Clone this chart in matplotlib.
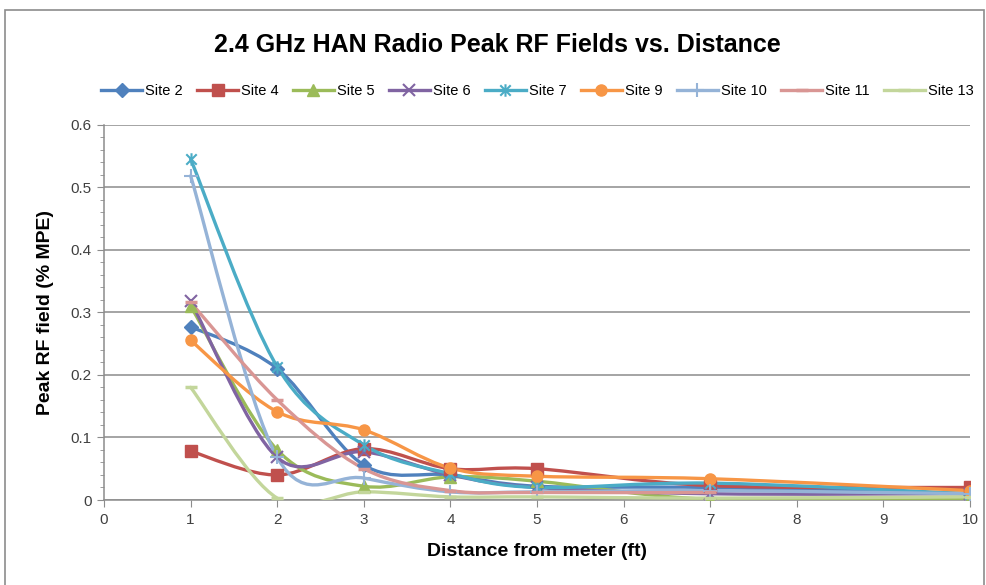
import numpy as np
import matplotlib
matplotlib.use('Agg')
import matplotlib.pyplot as plt
from matplotlib.path import Path
from matplotlib.patches import PathPatch, Rectangle
from matplotlib.lines import Line2D

plt.rcParams['font.family'] = ['Liberation Sans Narrow', 'Liberation Sans', 'DejaVu Sans']

# distances (ft)
dist = [1, 2, 3, 4, 5, 7, 10]

# peak RF field (% MPE) per site
site2 = [0.277, 0.210, 0.056, 0.040, 0.022, 0.020, 0.010]
site4 = [0.078, 0.040, 0.082, 0.050, 0.050, 0.023, 0.020]
site5 = [0.310, 0.080, 0.022, 0.037, 0.030, 0.001, 0.001]
site6 = [0.318, 0.068, 0.077, 0.040, 0.020, 0.010, 0.010]
site7 = [0.545, 0.213, 0.088, 0.042, 0.020, 0.027, 0.010]
site9 = [0.255, 0.141, 0.112, 0.051, 0.038, 0.034, 0.015]
site10 = [0.518, 0.068, 0.035, 0.013, 0.013, 0.015, 0.010]
site11 = [0.316, 0.160, 0.050, 0.015, 0.012, 0.012]
site13 = [0.180, 0.003, 0.013, 0.005, 0.005, 0.003, 0.005]

names = ['Site 2', 'Site 4', 'Site 5', 'Site 6', 'Site 7', 'Site 9', 'Site 10', 'Site 11', 'Site 13']
series = [site2, site4, site5, site6, site7, site9, site10, site11, site13]
colors = ['#4F81BD', '#C0504D', '#9BBB59', '#8064A2', '#4BACC6', '#F79646', '#95B3D7', '#D99694', '#C3D69B']

# excel style "star" marker: x with a vertical bar
star = Path([(-1, -1), (1, 1), (-1, 1), (1, -1), (0, -1.2), (0, 1.2)],
            [Path.MOVETO, Path.LINETO, Path.MOVETO, Path.LINETO, Path.MOVETO, Path.LINETO])
markers = ['D', 's', '^', 'x', star, 'o', '+', '_', '_']
msizes = [7, 8, 8, 8, 9, 8, 10, 8, 8]


def smooth_path(xs, ys):
    # Excel-like smoothed line: cubic bezier with control points from neighbours
    pts = np.column_stack([xs, ys]).astype(float)
    n = len(pts)
    verts = [pts[0]]
    codes = [Path.MOVETO]
    for i in range(n - 1):
        p0 = pts[i - 1] if i > 0 else pts[i]
        p1 = pts[i]
        p2 = pts[i + 1]
        p3 = pts[i + 2] if i + 2 < n else pts[i + 1]
        c1 = p1 + (p2 - p0) / 6.0
        c2 = p2 - (p3 - p1) / 6.0
        verts += [c1, c2, p2]
        codes += [Path.CURVE4] * 3
    return Path(verts, codes)


fig = plt.figure(figsize=(9.86, 5.85), dpi=100)
ax = fig.add_axes([104 / 986, 1 - 500 / 585, 866 / 986, 375.5 / 585])

# chart border
fig.patches.append(Rectangle((5 / 986, -0.1), 979 / 986, 1 - 10 / 585 + 0.1, transform=fig.transFigure,
                             fill=False, edgecolor='#8c8c8c', lw=1.2))

handles = []
for name, ys, c, m, ms in zip(names, series, colors, markers, msizes):
    xs = dist[:len(ys)]
    ax.add_patch(PathPatch(smooth_path(xs, ys), facecolor='none', edgecolor=c, lw=2.4,
                           capstyle='round', joinstyle='round', zorder=3))
    mew = 1.5 if m in ('x', '+') or m is star else (2.5 if m == '_' else 1)
    ax.plot(xs, ys, linestyle='none', marker=m, markersize=ms, color=c, mec=c, mew=mew, zorder=4)
    handles.append(Line2D([], [], color=c, lw=2.4, marker=m, markersize=ms, mec=c, mew=mew))

ax.set_xlim(0, 10)
ax.set_ylim(0, 0.6)
ax.set_xticks(range(0, 11))
ax.set_yticks(np.arange(0, 0.61, 0.1))
ax.set_yticklabels(['0', '0.1', '0.2', '0.3', '0.4', '0.5', '0.6'])
ax.set_yticks(np.arange(0, 0.601, 0.02), minor=True)
ax.yaxis.grid(True, color='#8c8c8c', lw=1.1)
ax.set_axisbelow(True)
for s in ['top', 'right']:
    ax.spines[s].set_visible(False)
for s in ['left', 'bottom']:
    ax.spines[s].set_color('#8c8c8c')
    ax.spines[s].set_linewidth(1.1)
ax.tick_params(axis='both', which='major', direction='out', length=5, color='#8c8c8c',
               labelsize=11, labelcolor='#404040', pad=4)
ax.tick_params(axis='y', which='minor', direction='out', length=3, color='#8c8c8c')

ax.set_xlabel('Distance from meter (ft)', fontsize=14, fontweight='bold', labelpad=12)
ax.set_ylabel('Peak RF field (% MPE)', fontsize=14, fontweight='bold', labelpad=12)

fig.text(0.504, 1 - 45 / 585, '2.4 GHz HAN Radio Peak RF Fields vs. Distance', ha='center', va='center',
         fontsize=18, fontweight='bold')

fig.legend(handles, names, loc='center', bbox_to_anchor=(0.545, 1 - 91 / 585), ncol=9, frameon=False,
           fontsize=10.5, handlelength=2.8, columnspacing=1.0, handletextpad=0.2)

fig.savefig('out.png', dpi=100)
